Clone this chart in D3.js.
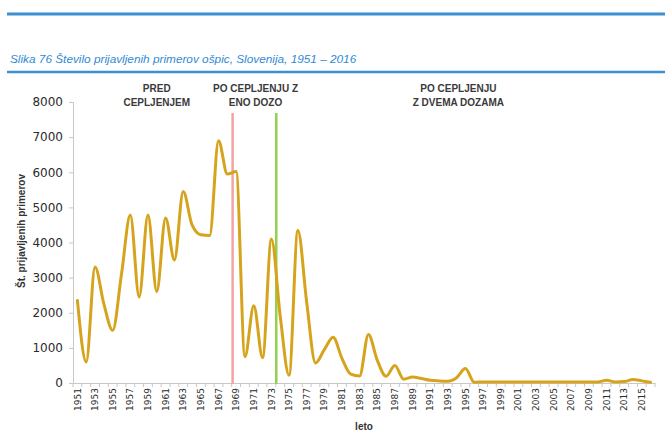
<!DOCTYPE html>
<html>
<head>
<meta charset="utf-8">
<script src="https://cdn.jsdelivr.net/npm/d3@7"></script>
<style>
  body { margin: 0; background: #fff; }
  svg { display: block; }
</style>
</head>
<body>
<svg></svg>
<script>

// data
var years = d3.range(1951, 2017);
var cases = [2350, 600, 3300, 2250, 1500, 3100, 4780, 2450, 4780, 2600,
             4700, 3500, 5450, 4500, 4220, 4200, 6900, 5950, 6020, 750,
             2200, 720, 4100, 1900, 220, 4350, 2300, 570, 950, 1300,
             700, 250, 200, 1380, 650, 190, 500, 110, 170, 130,
             80, 60, 50, 150, 410, 20, 30, 30, 30, 30,
             30, 30, 30, 30, 30, 30, 30, 30, 30, 30,
             80, 30, 40, 100, 60, 20];
var yTicks = [0, 1000, 2000, 3000, 4000, 5000, 6000, 7000, 8000];
var tickYears = years.filter(function(d) { return (d - 1951) % 2 == 0 });
var vaccineYears = [1968.6, 1973.55];   // red = one dose, green = two doses
var vaccineColors = ["#f2a3a3", "#92d050"];
var periods = [
  { year: 1960, lines: ["PRED", "CEPLJENJEM"] },
  { year: 1971.2, lines: ["PO CEPLJENJU Z", "ENO DOZO"] },
  { year: 1994.2, lines: ["PO CEPLJENJU", "Z DVEMA DOZAMA"] }
];
var title = "Slika 76 Število prijavljenih primerov ošpic, Slovenija, 1951 – 2016";

var W = 665, H = 432;
var svg = d3.select("svg").attr("width", W).attr("height", H);

// header with the two blue rules
svg.append("line").attr("x1", 7).attr("x2", W).attr("y1", 14).attr("y2", 14)
    .attr("stroke", "#3b8fd3").attr("stroke-width", 3);
svg.append("line").attr("x1", 7).attr("x2", W).attr("y1", 72).attr("y2", 72)
    .attr("stroke", "#3b8fd3").attr("stroke-width", 2.5);
svg.append("text")
    .attr("x", 10).attr("y", 63)
    .attr("font-family", "Liberation Sans, Arial, sans-serif")
    .attr("font-style", "italic")
    .attr("font-size", 11.8)
    .attr("fill", "#2f8ad4")
    .text(title);

var x = d3.scaleBand().domain(years).range([73, 655]);
var y = d3.scaleLinear().domain([0, 8000]).range([383, 102]);
var bw = x.bandwidth();
var xYear = function(v) { return x(1951) + bw / 2 + (v - 1951) * bw };

// y axis
var yAxis = svg.append("g")
    .attr("transform", "translate(73,0)")
    .call(d3.axisLeft(y).tickValues(yTicks).tickFormat(d3.format("d")).tickSize(4).tickPadding(6));
yAxis.selectAll("line, path").attr("stroke", "#c8c8c8");
yAxis.selectAll("text")
    .attr("font-family", "DejaVu Sans, sans-serif")
    .attr("font-size", 12)
    .attr("fill", "#2b2b2b");

// x axis, ticks between categories
var xAxis = svg.append("g")
    .attr("transform", "translate(0,383)")
    .call(d3.axisBottom(x).tickValues(tickYears).tickSize(0).tickPadding(5));
xAxis.select(".domain").attr("stroke", "#c8c8c8");
xAxis.selectAll("text")
    .attr("font-family", "DejaVu Sans, sans-serif")
    .attr("font-size", 9)
    .attr("fill", "#2b2b2b")
    .attr("transform", "rotate(-90)")
    .attr("text-anchor", "end")
    .attr("x", -5).attr("y", 0).attr("dy", "0.35em");
svg.append("g").selectAll("line")
    .data(years.concat([2017]))
    .enter().append("line")
    .attr("x1", function(d) { return d == 2017 ? x(2016) + bw : x(d) })
    .attr("x2", function(d) { return d == 2017 ? x(2016) + bw : x(d) })
    .attr("y1", 383).attr("y2", 387)
    .attr("stroke", "#c8c8c8");

// axis titles
svg.append("text")
    .attr("transform", "translate(25,231) rotate(-90)")
    .attr("text-anchor", "middle")
    .attr("font-family", "Liberation Sans, Arial, sans-serif")
    .attr("font-weight", "bold")
    .attr("font-size", 10)
    .attr("fill", "#333")
    .text("Št. prijavljenih primerov");
svg.append("text")
    .attr("x", 364).attr("y", 430)
    .attr("text-anchor", "middle")
    .attr("font-family", "Liberation Sans, Arial, sans-serif")
    .attr("font-weight", "bold")
    .attr("font-size", 10)
    .attr("fill", "#333")
    .text("leto");

// vaccination markers
svg.append("g").selectAll("line")
    .data(vaccineYears)
    .enter().append("line")
    .attr("x1", xYear).attr("x2", xYear)
    .attr("y1", 113).attr("y2", 384)
    .attr("stroke", function(d, i) { return vaccineColors[i] })
    .attr("stroke-width", 2.5);

// period labels
var pl = svg.append("g").selectAll("text")
    .data(periods)
    .enter().append("text")
    .attr("text-anchor", "middle")
    .attr("font-family", "Liberation Sans, Arial, sans-serif")
    .attr("font-weight", "bold")
    .attr("font-size", 10)
    .attr("fill", "#3a3a3a");
pl.selectAll("tspan")
    .data(function(d) { return d.lines.map(function(t) { return { t: t, year: d.year } }) })
    .enter().append("tspan")
    .attr("x", function(d) { return xYear(d.year) })
    .attr("y", function(d, i) { return 92 + i * 14 })
    .text(function(d) { return d.t });

// the case curve
var data = years.map(function(d, i) { return { year: d, value: cases[i] } });
var line = d3.line()
    .x(function(d) { return x(d.year) + bw / 2 })
    .y(function(d) { return y(d.value) })
    .curve(d3.curveMonotoneX);
svg.append("path")
    .datum(data)
    .attr("fill", "none")
    .attr("stroke", "#d6a31c")
    .attr("stroke-width", 3)
    .attr("stroke-linejoin", "round")
    .attr("stroke-linecap", "round")
    .attr("d", line);

</script>
</body>
</html>
